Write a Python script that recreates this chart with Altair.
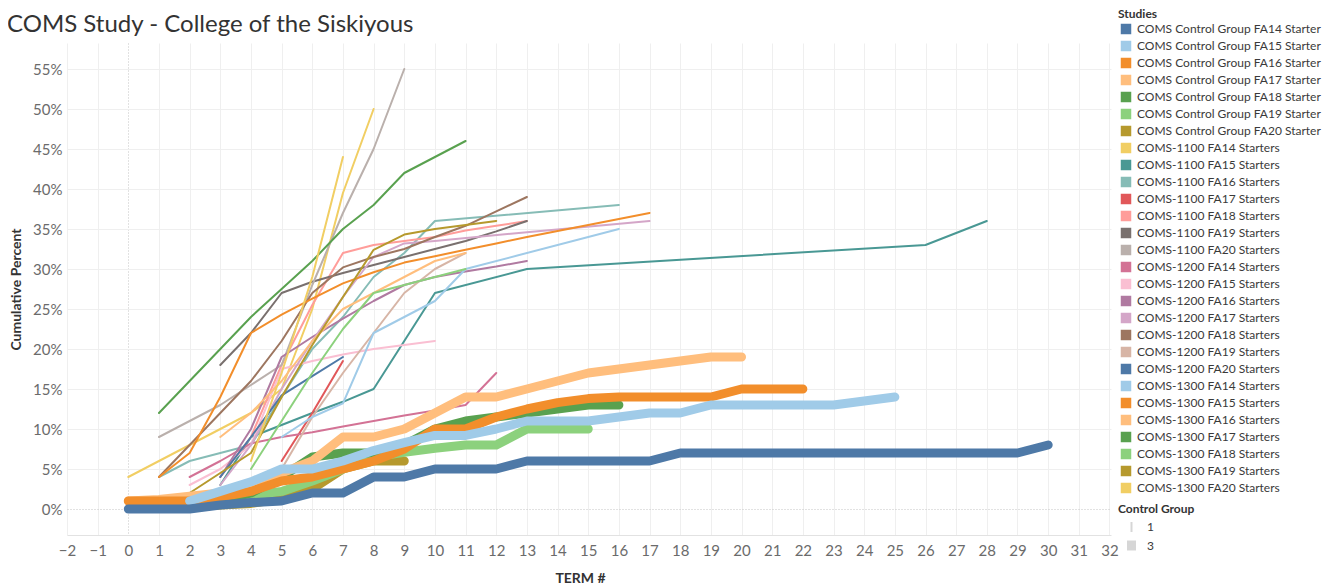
import altair as alt
import pandas as pd

# ---------------- legend categories & colours ----------------
STUDIES = [
    "COMS Control Group FA14 Starter", "COMS Control Group FA15 Starter",
    "COMS Control Group FA16 Starter", "COMS Control Group FA17 Starter",
    "COMS Control Group FA18 Starter", "COMS Control Group FA19 Starter",
    "COMS Control Group FA20 Starter",
    "COMS-1100 FA14 Starters", "COMS-1100 FA15 Starters", "COMS-1100 FA16 Starters",
    "COMS-1100 FA17 Starters", "COMS-1100 FA18 Starters", "COMS-1100 FA19 Starters",
    "COMS-1100 FA20 Starters",
    "COMS-1200 FA14 Starters", "COMS-1200 FA15 Starters", "COMS-1200 FA16 Starters",
    "COMS-1200 FA17 Starters", "COMS-1200 FA18 Starters", "COMS-1200 FA19 Starters",
    "COMS-1200 FA20 Starters",
    "COMS-1300 FA14 Starters", "COMS-1300 FA15 Starters", "COMS-1300 FA16 Starters",
    "COMS-1300 FA17 Starters", "COMS-1300 FA18 Starters", "COMS-1300 FA19 Starters",
    "COMS-1300 FA20 Starters",
]
COLORS = [
    "#4E79A7", "#A0CBE8", "#F28E2B", "#FFBE7D", "#59A14F", "#8CD17D", "#B6992D",
    "#F1CE63", "#499894", "#86BCB6", "#E15759", "#FF9D9A", "#79706E", "#BAB0AC",
    "#D37295", "#FABFD2", "#B07AA1", "#D4A6C8", "#9D7660", "#D7B5A6", "#4E79A7",
    "#A0CBE8", "#F28E2B", "#FFBE7D", "#59A14F", "#8CD17D", "#B6992D", "#F1CE63",
]
X_TICKS = list(range(-2, 33))
Y_TICKS = [0, 5, 10, 15, 20, 25, 30, 35, 40, 45, 50, 55]

# ---------------- control groups (thick lines) : term #, cumulative % ----------------
ctrl14_t = list(range(0, 31))
ctrl14_v = [0, 0, 0, 0.5, 0.8, 1, 2, 2, 4, 4, 5, 5, 5, 6, 6, 6, 6, 6, 7, 7, 7, 7, 7, 7, 7, 7, 7, 7, 7, 7, 8]
ctrl15_t = list(range(2, 26))
ctrl15_v = [1, 2.2, 3.4, 5, 5, 6, 7.3, 8.3, 9.2, 9.2, 10, 11, 11, 11, 11.5, 12, 12, 13, 13, 13, 13, 13, 13.5, 14]
ctrl16_t = list(range(0, 23))
ctrl16_v = [1, 1, 1, 1.5, 2.2, 3.5, 4, 5, 6, 7.5, 10, 10, 11.5, 12.5, 13.3, 13.8, 14, 14, 14, 14, 15, 15, 15]
ctrl17_t = list(range(0, 21))
ctrl17_v = [1, 1.2, 1.6, 2, 3, 4.5, 6, 9, 9, 10, 12, 14, 14, 15, 16, 17, 17.5, 18, 18.5, 19, 19]
ctrl18_t = list(range(2, 17))
ctrl18_v = [0.5, 1, 2, 4, 6.5, 7, 7, 8, 10, 11, 11.5, 12, 12.5, 13, 13]
ctrl19_t = list(range(2, 16))
ctrl19_v = [1, 1.3, 1.7, 2.2, 3.5, 5, 6.5, 7.1, 7.6, 8, 8, 10, 10, 10]
ctrl20_t = list(range(2, 10))
ctrl20_v = [0.3, 0.5, 0.7, 1.3, 2.5, 5, 6, 6]

# ---------------- course starters (thin lines) ----------------
c1100_14_t = [0, 1, 2, 3, 4, 5, 6, 7, 8]
c1100_14_v = [4, 6, 8, 10, 12, 15, 25, 39.5, 50]
c1100_15_t = [3, 4, 5, 6, 7, 8, 9, 10, 13, 26, 28]
c1100_15_v = [3, 9, 10.5, 12, 13.4, 15, 21, 27, 30, 33, 36]
c1100_16_t = [1, 2, 3, 4, 5, 6, 7, 8, 9, 10, 16]
c1100_16_v = [4, 6, 7, 8, 14, 20, 24, 29, 32, 36, 38]
c1100_17_t = [5, 6, 7]
c1100_17_v = [6, 12, 18.5]
c1100_18_t = [3, 4, 5, 6, 7, 8, 9, 10, 11, 12, 13]
c1100_18_v = [4, 9, 18, 25.5, 32, 33, 33.5, 34, 34.8, 35.4, 36]
c1100_19_t = [3, 4, 5, 6, 7, 8, 9, 10, 11, 12, 13]
c1100_19_v = [18, 22, 27, 28.4, 29.5, 30.5, 31.5, 32.5, 33.5, 34.7, 36]
c1100_20_t = [1, 2, 3, 4, 5, 6, 7, 8, 9]
c1100_20_v = [9, 11, 13, 15.5, 18, 28, 37, 45, 55]

c1200_14_t = [2, 3, 4, 5, 6, 7, 8, 9, 10, 11, 12]
c1200_14_v = [4, 6, 8.2, 9, 9.6, 10.3, 11, 11.7, 12.3, 13, 17]
c1200_15_t = [2, 3, 4, 5, 6, 7, 8, 9, 10]
c1200_15_v = [3, 5, 8, 17.5, 18.5, 19.3, 20, 20.5, 21]
c1200_16_t = [3, 4, 5, 6, 7, 8, 9, 10, 11, 12, 13]
c1200_16_v = [4, 10, 19, 21.5, 23.8, 26, 28, 29, 29.7, 30.3, 31]
c1200_17_t = [3, 4, 5, 6, 7, 8, 9, 10, 13, 17]
c1200_17_v = [3, 8, 15, 21, 26.5, 31.5, 33.2, 33.5, 34.6, 36]
c1200_18_t = [1, 2, 3, 4, 5, 6, 7, 8, 9, 10, 11, 12, 13]
c1200_18_v = [4, 8, 12, 16, 21, 27, 30.2, 31.5, 32.5, 34, 35.4, 37.2, 39]
c1200_19_t = [5, 6, 7, 8, 9, 10, 11]
c1200_19_v = [5, 11.5, 17, 22, 27, 30, 32]
c1200_20_t = [3, 4, 5, 6, 7]
c1200_20_v = [4, 9, 14.2, 16.6, 19]

c1300_14_t = [5, 6, 7, 8, 9, 10, 11, 16]
c1300_14_v = [9, 11.5, 13.2, 22, 24, 26, 30, 35]
c1300_15_t = [1, 2, 3, 4, 5, 6, 7, 8, 9, 10, 11, 12, 13, 17]
c1300_15_v = [4, 7, 14, 22, 24.3, 26.3, 28.2, 29.6, 30.8, 31.6, 32.4, 33.2, 34, 37]
c1300_16_t = [3, 4, 5, 6, 7, 8, 9, 10, 11]
c1300_16_v = [9, 12, 16, 21, 25, 27, 29, 31, 32]
c1300_17_t = [1, 2, 3, 4, 5, 6, 7, 8, 9, 10, 11]
c1300_17_v = [12, 16, 20, 24, 27.5, 31, 35, 38, 42, 44, 46]
c1300_18_t = [4, 5, 6, 7, 8, 9, 10, 11]
c1300_18_v = [5, 11, 17, 22.5, 27, 28, 29, 30]
c1300_19_t = [2, 3, 4, 5, 6, 7, 8, 9, 10, 11, 12]
c1300_19_v = [2, 4.5, 7, 14, 20.5, 26.5, 32.4, 34.3, 35, 35.5, 36]
c1300_20_t = [4, 5, 6, 7]
c1300_20_v = [6, 17, 29, 44]

# ---------------- assemble ----------------
thin_series = [
    (STUDIES[7], c1100_14_t, c1100_14_v), (STUDIES[8], c1100_15_t, c1100_15_v),
    (STUDIES[9], c1100_16_t, c1100_16_v), (STUDIES[10], c1100_17_t, c1100_17_v),
    (STUDIES[11], c1100_18_t, c1100_18_v), (STUDIES[12], c1100_19_t, c1100_19_v),
    (STUDIES[13], c1100_20_t, c1100_20_v),
    (STUDIES[14], c1200_14_t, c1200_14_v), (STUDIES[15], c1200_15_t, c1200_15_v),
    (STUDIES[16], c1200_16_t, c1200_16_v), (STUDIES[17], c1200_17_t, c1200_17_v),
    (STUDIES[18], c1200_18_t, c1200_18_v), (STUDIES[19], c1200_19_t, c1200_19_v),
    (STUDIES[20], c1200_20_t, c1200_20_v),
    (STUDIES[21], c1300_14_t, c1300_14_v), (STUDIES[22], c1300_15_t, c1300_15_v),
    (STUDIES[23], c1300_16_t, c1300_16_v), (STUDIES[24], c1300_17_t, c1300_17_v),
    (STUDIES[25], c1300_18_t, c1300_18_v), (STUDIES[26], c1300_19_t, c1300_19_v),
    (STUDIES[27], c1300_20_t, c1300_20_v),
]
# thick lines: drawn last-to-first so FA14 ends on top
thick_series = [
    (STUDIES[6], ctrl20_t, ctrl20_v), (STUDIES[5], ctrl19_t, ctrl19_v),
    (STUDIES[4], ctrl18_t, ctrl18_v), (STUDIES[3], ctrl17_t, ctrl17_v),
    (STUDIES[2], ctrl16_t, ctrl16_v), (STUDIES[1], ctrl15_t, ctrl15_v),
    (STUDIES[0], ctrl14_t, ctrl14_v),
]

rows = []
for name, ts, vs in thin_series:
    for t, v in zip(ts, vs):
        rows.append({"study": name, "grp": "1", "term": t, "pct": v})
for name, ts, vs in thick_series:
    for t, v in zip(ts, vs):
        rows.append({"study": name, "grp": "3", "term": t, "pct": v})
df = pd.DataFrame(rows)

FONT = "Lato"
GRID_COLOR = {"condition": {"test": "datum.value === 0", "value": "#c4c4c4"}, "value": "#efefef"}
GRID_DASH = {"condition": {"test": "datum.value === 0", "value": [1, 2]}, "value": []}

x_enc = alt.X(
    "term:Q",
    scale=alt.Scale(domain=[-2, 32.05], nice=False, zero=False),
    axis=alt.Axis(
        values=X_TICKS, format="d", title="TERM #", titleFont=FONT, titleFontSize=14,
        titleFontWeight="bold", titleColor="#333333", titlePadding=13, titleX=513,
        labelFont=FONT, labelFontSize=15, labelColor="#6b6b6b", labelPadding=8,
        labelFlush=False, labelOverlap=False, ticks=False,
        domainColor="#e2e2e2", gridColor=GRID_COLOR, gridDash=GRID_DASH,
    ),
)
y_enc = alt.Y(
    "pct:Q",
    scale=alt.Scale(domain=[-3.25, 58.25], nice=False, zero=False),
    axis=alt.Axis(
        values=Y_TICKS, labelExpr="datum.value + '%'", title="Cumulative Percent",
        titleFont=FONT, titleFontSize=14, titleFontWeight="bold", titleColor="#333333",
        titlePadding=9, labelFont=FONT, labelFontSize=15, labelColor="#6b6b6b",
        labelPadding=5, ticks=False, domain=False,
        gridColor=GRID_COLOR, gridDash=GRID_DASH,
    ),
)
color_enc = alt.Color(
    "study:N",
    scale=alt.Scale(domain=STUDIES, range=COLORS),
    legend=alt.Legend(
        title="Studies", orient="none", legendX=1051, legendY=-34, padding=0,
        titleFont=FONT, titleFontSize=12, titleFontWeight="bold", titleColor="#333333",
        titlePadding=2, labelFont=FONT, labelFontSize=12, labelColor="#3a3a3a",
        labelLimit=300, labelOffset=5, rowPadding=5, symbolType="square",
        symbolSize=110, symbolStrokeWidth=0, symbolOffset=2, symbolOpacity=1,
    ),
)
width_enc = alt.StrokeWidth(
    "grp:N",
    scale=alt.Scale(domain=["1", "3"], range=[2, 9]),
    legend=alt.Legend(
        title="Control Group", orient="none", legendX=1051, legendY=461, padding=0,
        titleFont=FONT, titleFontSize=12, titleFontWeight="bold", titleColor="#333333",
        titlePadding=5, labelFont=FONT, labelFontSize=12, labelColor="#3a3a3a",
        labelOffset=6, rowPadding=-19, symbolType="M0,-1L0,1", symbolSize=100,
        symbolOffset=4, symbolStrokeColor="#d6d6d6", symbolFillColor="#d6d6d6",
        symbolOpacity=1,
    ),
)

# empty square layer: only supplies filled square swatches to the colour legend
swatch = alt.Chart(df).mark_square(filled=True, size=0).encode(
    x=x_enc, y=y_enc, color=color_enc,
).transform_filter(alt.datum.grp == "none")

base = alt.Chart(df).mark_line(strokeCap="round", strokeJoin="round").encode(
    x=x_enc, y=y_enc, color=color_enc, strokeWidth=width_enc,
)
thin = base.transform_filter(alt.datum.grp == "1")
thick = base.transform_filter(alt.datum.grp == "3")

chart = alt.layer(swatch, thin, thick).properties(
    width=1044,
    height=492,
    autosize=alt.AutoSizeParams(type="none"),
    padding={"left": 59, "top": 35, "right": 212, "bottom": 54},
    title=alt.TitleParams(
        "COMS Study - College of the Siskiyous", anchor="start", frame="group",
        font=FONT, fontSize=24, fontWeight="normal", color="#333333", dx=-60, dy=32,
    ),
).configure_view(strokeWidth=0)

chart.save("out.html", embed_options={"renderer": "svg", "actions": False})
